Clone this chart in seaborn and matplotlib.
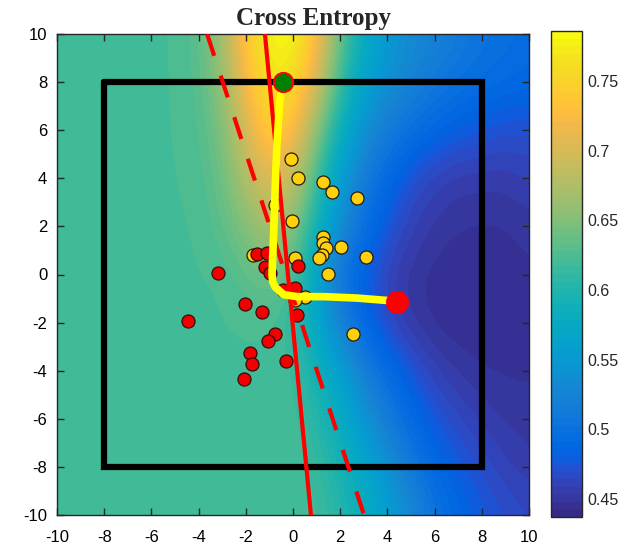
import numpy as np
import matplotlib
matplotlib.use("Agg")
import matplotlib.pyplot as plt
from matplotlib.colors import ListedColormap
import seaborn as sns
import pandas as pd

# ---------------- data ----------------
grid_x = list(range(-10, 11))                    # column centres
grid_y = [10, 8, 6, 4, 2, 0, -2, -4, -6, -8, -10]  # row centres (top to bottom)
L = 0.622
row_p10 = [L]*6 + [0.63, 0.665, 0.74, 0.78, 0.785, 0.735, 0.635, 0.58, 0.55, 0.535, 0.525, 0.515, 0.505, 0.50, 0.495]
row_p8  = [L]*6 + [0.628, 0.655, 0.725, 0.77, 0.765, 0.70, 0.615, 0.565, 0.54, 0.525, 0.512, 0.502, 0.497, 0.493, 0.49]
row_p6  = [L]*6 + [0.626, 0.645, 0.70, 0.75, 0.73, 0.655, 0.585, 0.54, 0.515, 0.50, 0.488, 0.48, 0.475, 0.47, 0.47]
row_p4  = [L]*6 + [0.624, 0.637, 0.675, 0.71, 0.69, 0.62, 0.555, 0.515, 0.49, 0.47, 0.46, 0.455, 0.455, 0.455, 0.46]
row_p2  = [L]*7 + [0.632, 0.65, 0.67, 0.655, 0.59, 0.535, 0.50, 0.475, 0.46, 0.452, 0.448, 0.447, 0.447, 0.45]
row_0   = [L]*8 + [0.632, 0.642, 0.63, 0.565, 0.505, 0.48, 0.46, 0.45, 0.445, 0.443, 0.443, 0.445, 0.447]
row_m2  = [L]*10 + [0.612, 0.57, 0.52, 0.49, 0.465, 0.452, 0.445, 0.443, 0.443, 0.443, 0.445]
row_m4  = [L]*10 + [0.62, 0.59, 0.56, 0.52, 0.495, 0.475, 0.46, 0.452, 0.448, 0.447, 0.447]
row_m6  = [L]*10 + [0.622, 0.605, 0.58, 0.545, 0.515, 0.492, 0.475, 0.465, 0.457, 0.452, 0.45]
row_m8  = [L]*11 + [0.615, 0.595, 0.57, 0.54, 0.512, 0.49, 0.478, 0.468, 0.46, 0.455]
row_m10 = [L]*11 + [0.62, 0.605, 0.585, 0.56, 0.533, 0.505, 0.49, 0.478, 0.47, 0.465]
field_rows = [row_p10, row_p8, row_p6, row_p4, row_p2, row_0,
              row_m2, row_m4, row_m6, row_m8, row_m10]

red_x = [-4.45, -3.18, -2.03, -1.31, -1.53, -1.10, -1.19, -0.97, 0.21, -0.42,
         0.08, 0.17, -0.76, -1.06, -1.82, -1.74, -2.08, -0.30]
red_y = [-1.93, 0.06, -1.23, -1.56, 0.85, 0.89, 0.31, 0.06, 0.35, -0.64,
         -0.56, -1.68, -2.47, -2.77, -3.26, -3.72, -4.35, -3.60]

yellow_x = [-0.08, 0.21, 1.27, 1.65, 2.71, -0.76, -0.04, 1.27, 1.27, 1.40,
            1.23, 1.10, 2.03, 3.09, 1.48, -1.69, 0.08, 0.51, 0.08, 2.54]
yellow_y = [4.82, 4.01, 3.85, 3.43, 3.18, 2.89, 2.22, 1.56, 1.31, 1.10,
            0.81, 0.69, 1.14, 0.73, 0.02, 0.81, 0.69, -0.94, -1.06, -2.47]

path_x = [-0.42, -0.56, -0.68, -0.75, -0.82, -0.89, -0.86, -0.75, -0.39, 0.17, 1.30, 2.71, 4.12, 4.41]
path_y = [8.00, 7.23, 5.43, 3.76, 1.68, 0.02, -0.30, -0.53, -0.84, -0.92, -0.92, -0.98, -1.09, -1.14]

start_x, start_y = [-0.42], [8.0]
end_x, end_y = [4.41], [-1.14]

solid_x, solid_y = [-1.19, 0.76], [10, -10]
dashed_x, dashed_y = [-3.64, 3.01], [10, -10]

box_x = [-8, 8, 8, -8, -8]
box_y = [8, 8, -8, -8, 8]

axis_ticks = [-10, -8, -6, -4, -2, 0, 2, 4, 6, 8, 10]
cbar_ticks = [0.45, 0.5, 0.55, 0.6, 0.65, 0.7, 0.75]
cbar_labels = ["0.45", "0.5", "0.55", "0.6", "0.65", "0.7", "0.75"]
vmin, vmax = 0.437, 0.786
title = "Cross Entropy"

# ---------------- parula colormap ----------------
parula_data = [
    [0.2081, 0.1663, 0.5292], [0.2116, 0.1898, 0.5777], [0.2123, 0.2138, 0.6270], [0.2081, 0.2386, 0.6771],
    [0.1959, 0.2645, 0.7279], [0.1707, 0.2919, 0.7792], [0.1253, 0.3242, 0.8303], [0.0591, 0.3598, 0.8683],
    [0.0117, 0.3875, 0.8820], [0.0060, 0.4086, 0.8828], [0.0165, 0.4266, 0.8786], [0.0329, 0.4430, 0.8720],
    [0.0498, 0.4586, 0.8641], [0.0629, 0.4737, 0.8554], [0.0723, 0.4887, 0.8467], [0.0779, 0.5040, 0.8384],
    [0.0793, 0.5200, 0.8312], [0.0749, 0.5375, 0.8263], [0.0641, 0.5570, 0.8240], [0.0488, 0.5772, 0.8228],
    [0.0343, 0.5966, 0.8199], [0.0265, 0.6137, 0.8135], [0.0239, 0.6287, 0.8038], [0.0231, 0.6418, 0.7913],
    [0.0228, 0.6535, 0.7768], [0.0267, 0.6642, 0.7607], [0.0384, 0.6743, 0.7436], [0.0590, 0.6838, 0.7254],
    [0.0843, 0.6928, 0.7062], [0.1133, 0.7015, 0.6859], [0.1453, 0.7098, 0.6646], [0.1801, 0.7177, 0.6424],
    [0.2178, 0.7250, 0.6193], [0.2586, 0.7317, 0.5954], [0.3022, 0.7376, 0.5712], [0.3482, 0.7424, 0.5473],
    [0.3953, 0.7459, 0.5244], [0.4420, 0.7481, 0.5033], [0.4871, 0.7491, 0.4840], [0.5300, 0.7491, 0.4661],
    [0.5709, 0.7485, 0.4494], [0.6099, 0.7473, 0.4337], [0.6473, 0.7456, 0.4188], [0.6834, 0.7435, 0.4044],
    [0.7184, 0.7411, 0.3905], [0.7525, 0.7384, 0.3768], [0.7858, 0.7356, 0.3633], [0.8185, 0.7327, 0.3498],
    [0.8507, 0.7299, 0.3360], [0.8824, 0.7274, 0.3217], [0.9139, 0.7258, 0.3063], [0.9450, 0.7261, 0.2886],
    [0.9739, 0.7314, 0.2666], [0.9938, 0.7455, 0.2403], [0.9990, 0.7653, 0.2164], [0.9955, 0.7861, 0.1967],
    [0.9880, 0.8066, 0.1794], [0.9789, 0.8271, 0.1633], [0.9697, 0.8481, 0.1475], [0.9626, 0.8705, 0.1309],
    [0.9589, 0.8949, 0.1132], [0.9598, 0.9218, 0.0948], [0.9661, 0.9514, 0.0755], [0.9763, 0.9831, 0.0538]]
parula = ListedColormap(parula_data, name="parula")

# ---------------- figure ----------------
sns.set_style("ticks")
plt.rcParams["font.family"] = ["Liberation Sans", "DejaVu Sans"]

W, H = 629, 547
fig = plt.figure(figsize=(W / 100, H / 100), dpi=100)
ax = fig.add_axes([57 / W, 1 - 515 / H, 472 / W, 481 / H])
cax = fig.add_axes([551 / W, 1 - 517 / H, 31 / W, 486 / H])

field = np.array(field_rows)
dx = (grid_x[1] - grid_x[0]) / 2
dy = (grid_y[0] - grid_y[1]) / 2
im = ax.imshow(field, cmap=parula, vmin=vmin, vmax=vmax, origin="upper",
               extent=[grid_x[0] - dx, grid_x[-1] + dx, grid_y[-1] - dy, grid_y[0] + dy],
               interpolation="bicubic", interpolation_stage="data", aspect="auto", zorder=0)

# box
ax.plot(box_x, box_y, color="black", lw=4.5, solid_joinstyle="miter", zorder=2)

# points
df_y = pd.DataFrame({"x": yellow_x, "y": yellow_y})
df_r = pd.DataFrame({"x": red_x, "y": red_y})
sns.scatterplot(data=df_y, x="x", y="y", ax=ax, s=88, color=(1.0, 0.82, 0.05),
                edgecolor=(0.15, 0.1, 0.05), linewidth=0.9, zorder=3, legend=False)
sns.scatterplot(data=df_r, x="x", y="y", ax=ax, s=88, color=(0.95, 0.0, 0.0),
                edgecolor=(0.2, 0.05, 0.05), linewidth=0.9, zorder=3, legend=False)

# boundaries
ax.plot(dashed_x, dashed_y, color="red", lw=3, dashes=(5.5, 5), zorder=4)
ax.plot(solid_x, solid_y, color="red", lw=3, zorder=4)

# optimisation path
sns.lineplot(x=path_x, y=path_y, ax=ax, sort=False, estimator=None, color=(1.0, 1.0, 0.0),
             lw=5.5, zorder=5, solid_joinstyle="round", solid_capstyle="round")
ax.scatter(start_x, start_y, s=190, color=(0.0, 0.5, 0.0), edgecolor="red", linewidth=1.5, zorder=6)
ax.scatter(end_x, end_y, s=260, color=(1.0, 0.0, 0.0), edgecolor="red", linewidth=0.5, zorder=6)

ax.set_xlim(-10, 10)
ax.set_ylim(-10, 10)
ax.set_xticks(axis_ticks)
ax.set_yticks(axis_ticks)
ax.set_xticklabels([str(t) for t in axis_ticks])
ax.set_yticklabels([str(t) for t in axis_ticks])
ax.set_xlabel("")
ax.set_ylabel("")
ax.tick_params(direction="in", length=5, width=1, color=(0.15, 0.15, 0.15),
               top=True, right=True, labelsize=12, labelcolor="black")
ax.tick_params(axis="x", pad=11)
ax.tick_params(axis="y", pad=7)
for sp in ax.spines.values():
    sp.set_visible(True)
    sp.set_color((0.15, 0.15, 0.15))
    sp.set_linewidth(1.0)

cb = fig.colorbar(im, cax=cax)
cb.set_ticks(cbar_ticks)
cb.set_ticklabels(cbar_labels)
cax.tick_params(direction="in", length=4, width=1, color=(0.15, 0.15, 0.15),
                labelsize=11.5, pad=4, right=True, left=False)
cb.outline.set_edgecolor((0.15, 0.15, 0.15))
cb.outline.set_linewidth(1.0)

fig.text(313 / W, 1 - 19 / H, title, ha="center", va="center",
         family=["Liberation Serif", "DejaVu Serif"], fontweight="bold", fontsize=18)

fig.savefig("out.png", dpi=100)
